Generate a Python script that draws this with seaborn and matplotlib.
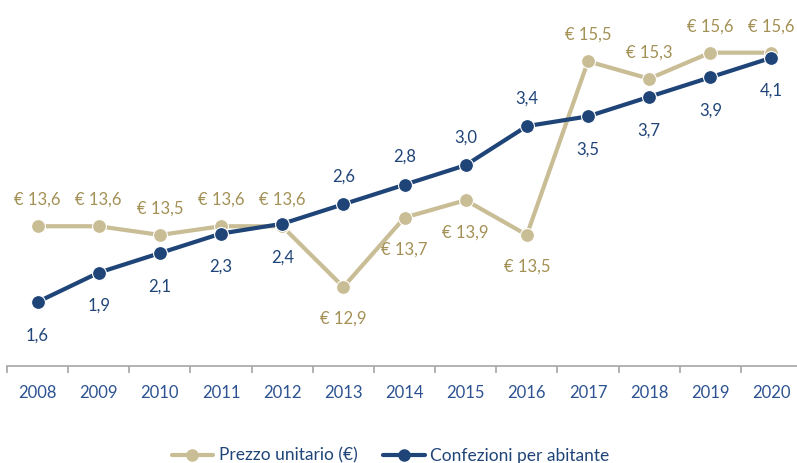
import pandas as pd
import seaborn as sns
import matplotlib.pyplot as plt
from matplotlib.lines import Line2D

# Data
years = [2008, 2009, 2010, 2011, 2012, 2013, 2014, 2015, 2016, 2017, 2018, 2019, 2020]
prezzo = [13.6, 13.6, 13.5, 13.6, 13.6, 12.9, 13.7, 13.9, 13.5, 15.5, 15.3, 15.6, 15.6]
confezioni = [1.6, 1.9, 2.1, 2.3, 2.4, 2.6, 2.8, 3.0, 3.4, 3.5, 3.7, 3.9, 4.1]

# label position: True = above the point
prezzo_above = [True] * 5 + [False] * 4 + [True] * 4
conf_above = [False] * 5 + [True] * 4 + [False] * 4

beige = "#C9BD95"
beige_text = "#A39055"
navy = "#1F4478"
year_color = "#2C5291"

df = pd.DataFrame({
    "anno": years,
    "prezzo": prezzo,
    "confezioni": confezioni
})

sns.set_style("white")
plt.rcParams["font.family"] = ["Lato", "DejaVu Sans"]

fig = plt.figure(figsize=(7.97, 4.63), dpi=100)
ax1 = fig.add_axes([0.0088, 0.2095, 0.9975, 0.748])
ax2 = ax1.twinx()

sns.lineplot(
    data=df, x="anno", y="prezzo", ax=ax1,
    color=beige, linewidth=3, marker="o", markersize=10,
    markeredgecolor="white", markeredgewidth=0.8
)

sns.lineplot(
    data=df, x="anno", y="confezioni", ax=ax2,
    color=navy, linewidth=3, marker="o", markersize=10,
    markeredgecolor="white", markeredgewidth=0.8
)

ax1.set_ylim(11.99, 15.98)
ax2.set_ylim(0.944, 4.49)
ax1.set_xlim(2007.5, 2020.5)

# Data labels
for x, v, up in zip(years, prezzo, prezzo_above):
    ax1.annotate(
        "€ " + f"{v:.1f}".replace(".", ","),
        (x, v), xytext=(0, 19 if up else -23),
        textcoords="offset points", ha="center", va="center",
        fontsize=12, color=beige_text
    )

for x, v, up in zip(years, confezioni, conf_above):
    ax2.annotate(
        f"{v:.1f}".replace(".", ","),
        (x, v), xytext=(0, 20 if up else -24),
        textcoords="offset points", ha="center", va="center",
        fontsize=12, color=navy
    )

# Axes styling
for ax in (ax1, ax2):
    for side in ["top", "right", "left"]:
        ax.spines[side].set_visible(False)
    ax.set_yticks([])
    ax.set_ylabel("")
    ax.set_xlabel("")

ax1.spines["bottom"].set_color("#A6A6A6")
ax1.spines["bottom"].set_linewidth(1.2)
ax2.spines["bottom"].set_visible(False)

ax1.set_xticks(years)
ax1.set_xticklabels([str(y) for y in years], fontsize=12, color=year_color)
ax1.set_xticks([y + 0.5 for y in [2007] + years], minor=True)
ax1.tick_params(axis="x", which="major", length=0, pad=14)
ax1.tick_params(axis="x", which="minor", length=5, width=1.2,
                color="#A6A6A6", direction="out", bottom=True)

# Legend
handles = [
    Line2D([], [], color=beige, linewidth=3, marker="o", markersize=8),
    Line2D([], [], color=navy, linewidth=3, marker="o", markersize=8)
]
fig.legend(
    handles, ["Prezzo unitario (€)", "Confezioni per abitante"],
    loc="lower center", bbox_to_anchor=(0.49, -0.035), ncol=2,
    frameon=False, fontsize=12.5, handlelength=2.4, columnspacing=1.5,
    handletextpad=0.3, labelcolor=navy
)

fig.savefig("out.png", dpi=100)
plt.close()
